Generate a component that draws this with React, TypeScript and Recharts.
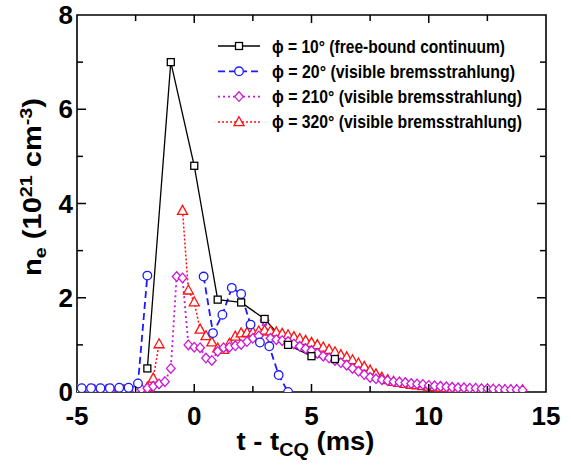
import { Legend, Line, LineChart, ReferenceArea, XAxis, YAxis } from "recharts";

const W = 571;
const H = 465;
// plot box in page pixels (axes drawn by hand with inward ticks)
const PLOT = { left: 77, top: 15, right: 546, bottom: 392 };
const FONT = "'Liberation Sans Narrow', 'Liberation Sans', Arial, sans-serif";

const X_TICKS = [-5, -2.5, 0, 2.5, 5, 7.5, 10, 12.5, 15];
const Y_TICKS = [0, 1, 2, 3, 4, 5, 6, 7, 8];

// phi = 10 deg, free-bound continuum
const tBlack = [-2, -1, 0, 1, 2, 3, 4, 5, 6];
const nBlack = [0.5, 7.0, 4.8, 1.96, 1.9, 1.55, 1.0, 0.76, 0.7];

// phi = 20 deg, visible bremsstrahlung (gap at the spike)
const tBlue = [-4.8, -4.4, -4.0, -3.6, -3.2, -2.8, -2.4, -2.0, -1.6, -1.2, -0.8, -0.4, 0.0, 0.4, 0.8, 1.2, 1.6, 2.0, 2.4, 2.8, 3.2, 3.6, 4.0];
const nBlue = [0.08, 0.08, 0.08, 0.08, 0.09, 0.09, 0.18, 2.47, null, null, null, null, null, 2.45, 1.25, 1.64, 2.21, 2.08, 1.43, 1.05, 0.97, 0.36, 0.0];

// phi = 210 deg
const tMagenta = [
  -5, -4.75, -4.5, -4.25, -4, -3.75, -3.5, -3.25, -3, -2.75, -2.5, -2.25, -2, -1.75, -1.5, -1.25,
  -1, -0.75, -0.5, -0.25, 0, 0.25, 0.5, 0.75, 1, 1.25, 1.5, 1.75, 2, 2.25, 2.5, 2.75,
  3, 3.25, 3.5, 3.75, 4, 4.25, 4.5, 4.75, 5, 5.25, 5.5, 5.75, 6, 6.25, 6.5, 6.75,
  7, 7.25, 7.5, 7.75, 8, 8.25, 8.5, 8.75, 9, 9.25, 9.5, 9.75, 10, 10.25, 10.5, 10.75,
  11, 11.25, 11.5, 11.75, 12, 12.25, 12.5, 12.75, 13, 13.25, 13.5, 13.75, 14,
];
const nMagenta = [
  0.05, 0.05, 0.05, 0.05, 0.05, 0.05, 0.05, 0.05, 0.05, 0.05, 0.05, 0.06, 0.08, 0.12, 0.17, 0.22,
  0.5, 2.45, 2.42, 1.0, 0.95, 0.94, 0.72, 0.67, 0.86, 0.94, 0.95, 0.98, 1.01, 1.07, 1.14, 1.19,
  1.52, 1.14, 1.11, 1.09, 1.07, 1.02, 0.97, 0.92, 0.88, 0.82, 0.76, 0.72, 0.67, 0.62, 0.57, 0.5,
  0.44, 0.37, 0.31, 0.28, 0.26, 0.24, 0.22, 0.21, 0.2, 0.18, 0.17, 0.16, 0.14, 0.13, 0.12, 0.11,
  0.1, 0.09, 0.09, 0.08, 0.08, 0.07, 0.07, 0.06, 0.06, 0.05, 0.05, 0.05, 0.04,
];

// phi = 320 deg (gap at the spike)
const tRed = tMagenta;
const nRed = [
  0.04, 0.04, 0.04, 0.04, 0.04, 0.04, 0.04, 0.04, 0.04, 0.04, 0.05, 0.06, 0.1, 0.29, 1.02, null,
  null, null, 3.85, 2.16, 1.91, 1.33, 1.19, 1.06, 0.93, 0.9, 1.03, 1.18, 1.25, 1.26, 1.27, 1.29,
  1.31, 1.29, 1.27, 1.24, 1.21, 1.17, 1.13, 1.09, 1.05, 1.0, 0.95, 0.9, 0.85, 0.79, 0.74, 0.68,
  0.61, 0.54, 0.46, 0.38, 0.31, 0.26, 0.22, 0.2, 0.18, 0.16, 0.15, 0.13, 0.12, 0.11, 0.1, 0.09,
  0.08, 0.07, 0.07, 0.06, 0.06, 0.05, 0.05, 0.05, 0.04, 0.04, 0.04, 0.04, 0.04,
];

const zip = (t: number[], n: (number | null)[]) => t.map((x, i) => ({ t: x, n: n[i] }));

type Shape = "square" | "circle" | "diamond" | "triangle";

const SERIES = [
  { key: "p10", label: "ϕ = 10° (free-bound continuum)", data: zip(tBlack, nBlack), color: "#000000", shape: "square" as Shape, dash: undefined, width: 1.3 },
  { key: "p20", label: "ϕ = 20° (visible bremsstrahlung)", data: zip(tBlue, nBlue), color: "#1a1aff", shape: "circle" as Shape, dash: "7 4", width: 1.8 },
  { key: "p210", label: "ϕ = 210° (visible bremsstrahlung)", data: zip(tMagenta, nMagenta), color: "#cc19d6", shape: "diamond" as Shape, dash: "2 3", width: 1.8 },
  { key: "p320", label: "ϕ = 320° (visible bremsstrahlung)", data: zip(tRed, nRed), color: "#ff1010", shape: "triangle" as Shape, dash: "2 2", width: 1.5 },
];
const LEGEND_TEXT_W = [233, 243, 250, 250];

function Marker({ shape, cx, cy, color }: { shape: Shape; cx: number; cy: number; color: string }) {
  const common = { fill: "#fff", stroke: color, strokeWidth: 1.3 };
  if (shape === "square") return <rect x={cx - 3.5} y={cy - 3.5} width={7} height={7} {...common} />;
  if (shape === "circle") return <circle cx={cx} cy={cy} r={4.3} {...common} />;
  if (shape === "diamond")
    return <polygon points={`${cx},${cy - 4.8} ${cx + 4.3},${cy} ${cx},${cy + 4.8} ${cx - 4.3},${cy}`} {...common} />;
  return <polygon points={`${cx},${cy - 5.2} ${cx + 5},${cy + 3.8} ${cx - 5},${cy + 3.8}`} {...common} />;
}

const dotFor = (shape: Shape, color: string) => (p: any) => {
  if (p.cx == null || p.cy == null || p.value == null) return <g key={`e-${p.index}`} />;
  return (
    <g key={`d-${p.index}`}>
      <Marker shape={shape} cx={p.cx} cy={p.cy} color={color} />
    </g>
  );
};

function XTick(props: any) {
  const { x, payload } = props;
  const v = payload.value as number;
  const major = v % 5 === 0;
  const len = major ? 8 : 6;
  const edge = v === -5 || v === 15;
  return (
    <g>
      {!edge && <line x1={x} x2={x} y1={PLOT.bottom} y2={PLOT.bottom - len} stroke="#000" strokeWidth={1.5} />}
      {!edge && <line x1={x} x2={x} y1={PLOT.top} y2={PLOT.top + len} stroke="#000" strokeWidth={1.5} />}
      {major && (
        <text x={x} y={PLOT.bottom + 33} textAnchor="middle" fontFamily={FONT} fontWeight="bold" fontSize={26} fill="#000">
          {v}
        </text>
      )}
    </g>
  );
}

function YTick(props: any) {
  const { y, payload } = props;
  const v = payload.value as number;
  const major = v % 2 === 0;
  const len = major ? 9 : 6;
  const edge = v === 0 || v === 8;
  return (
    <g>
      {!edge && <line x1={PLOT.left} x2={PLOT.left + len} y1={y} y2={y} stroke="#000" strokeWidth={1.5} />}
      {!edge && <line x1={PLOT.right} x2={PLOT.right - len} y1={y} y2={y} stroke="#000" strokeWidth={1.5} />}
      {major && (
        <text x={PLOT.left - 4} y={y + 9} textAnchor="end" fontFamily={FONT} fontWeight="bold" fontSize={26} fill="#000">
          {v}
        </text>
      )}
    </g>
  );
}

function XTitle(props: any) {
  const vb = props.viewBox || { x: PLOT.left, width: PLOT.right - PLOT.left };
  return (
    <text
      x={vb.x + vb.width / 2 - 6}
      y={PLOT.bottom + 58}
      textAnchor="middle"
      fontFamily={FONT}
      fontWeight="bold"
      fontSize={25}
      fill="#000"
      textLength={138}
      lengthAdjust="spacingAndGlyphs"
    >
      <tspan>t - t</tspan>
      <tspan dy={6} fontSize={18}>CQ</tspan>
      <tspan dy={-6}> (ms)</tspan>
    </text>
  );
}

function YTitle() {
  return (
    <text
      transform="translate(41,187) rotate(-90)"
      textAnchor="middle"
      fontFamily={FONT}
      fontWeight="bold"
      fontSize={25}
      fill="#000"
      textLength={178}
      lengthAdjust="spacingAndGlyphs"
    >
      <tspan>n</tspan>
      <tspan dy={5} fontSize={17}>e</tspan>
      <tspan dy={-5}> (10</tspan>
      <tspan dy={-9} fontSize={17}>21</tspan>
      <tspan dy={9}> cm</tspan>
      <tspan dy={-9} fontSize={17}>-3</tspan>
      <tspan dy={9}>)</tspan>
    </text>
  );
}

function LegendBox() {
  return (
    <svg width={355} height={110} style={{ display: "block", overflow: "visible" }}>
      {SERIES.map((s, i) => {
        const y = 13 + i * 25.3;
        return (
          <g key={s.key}>
            <line x1={6} x2={48} y1={y} y2={y} stroke={s.color} strokeWidth={s.width} strokeDasharray={s.dash} />
            <Marker shape={s.shape} cx={27} cy={y} color={s.color} />
            <text
              x={60}
              y={y + 6.5}
              fontFamily={FONT}
              fontWeight="bold"
              fontSize={18.5}
              fill="#000"
              textLength={LEGEND_TEXT_W[i]}
              lengthAdjust="spacingAndGlyphs"
            >
              {s.label}
            </text>
          </g>
        );
      })}
    </svg>
  );
}

export default function App() {
  return (
    <div style={{ position: "absolute", left: 0, top: 0, background: "#fff" }}>
      <LineChart width={W} height={H} margin={{ top: PLOT.top, right: W - PLOT.right, bottom: 0, left: 0 }}>
        <XAxis
          type="number"
          dataKey="t"
          domain={[-5, 15]}
          ticks={X_TICKS}
          interval={0}
          height={H - PLOT.bottom}
          tickLine={false}
          axisLine={false}
          tick={<XTick />}
          label={<XTitle />}
          allowDataOverflow
        />
        <YAxis
          type="number"
          domain={[0, 8]}
          ticks={Y_TICKS}
          interval={0}
          width={PLOT.left}
          tickLine={false}
          axisLine={false}
          tick={<YTick />}
          label={<YTitle />}
          allowDataOverflow
        />
        <ReferenceArea x1={-5} x2={15} y1={0} y2={8} fill="none" fillOpacity={0} stroke="#000" strokeWidth={1.6} />
        {[...SERIES].reverse().map((s) => (
          <Line
            key={s.key}
            data={s.data}
            dataKey="n"
            type="linear"
            stroke={s.color}
            strokeWidth={s.width}
            strokeDasharray={s.dash}
            dot={dotFor(s.shape, s.color)}
            activeDot={false}
            connectNulls={false}
            isAnimationActive={false}
          />
        ))}
        <Legend
          layout="vertical"
          align="center"
          verticalAlign="middle"
          content={() => <LegendBox />}
          wrapperStyle={{ left: 212, top: 33, width: 355, height: 110 }}
        />
      </LineChart>
    </div>
  );
}
